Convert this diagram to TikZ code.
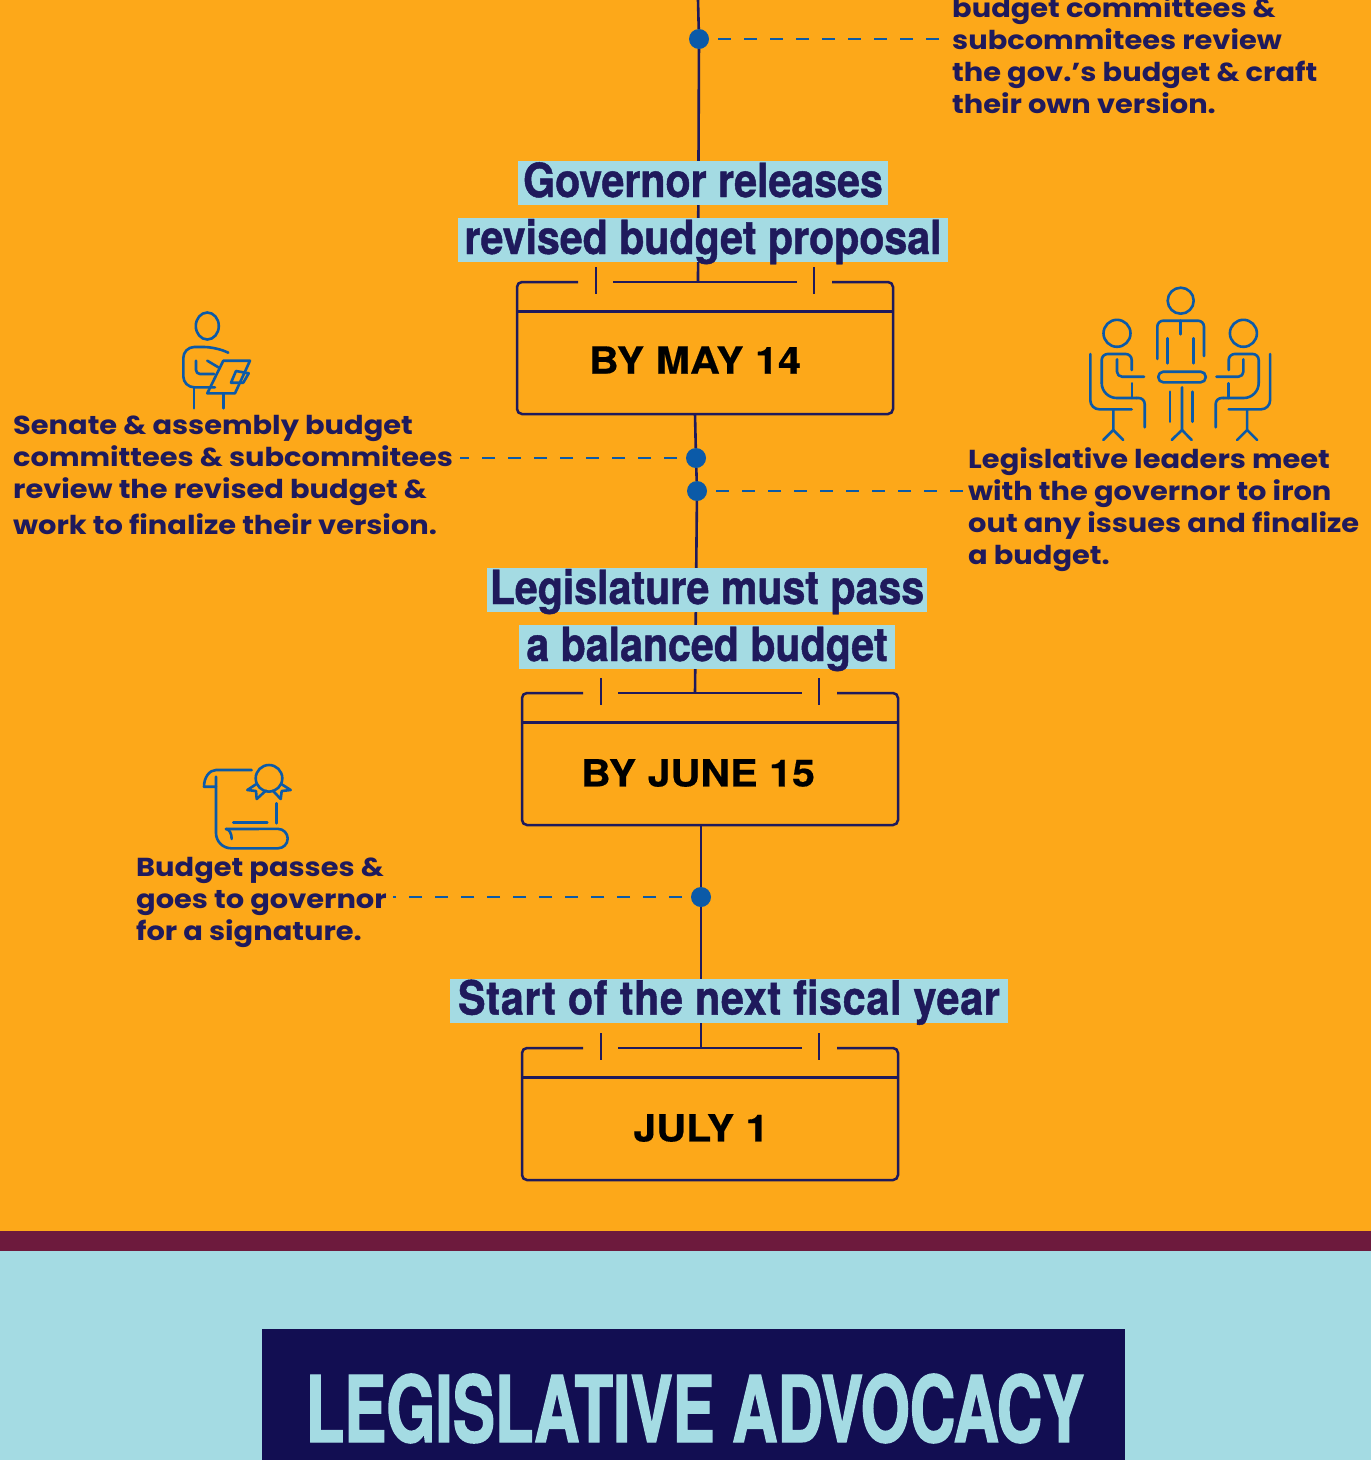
\documentclass[tikz,border=0pt]{standalone}
\usepackage{fontspec}
\newfontfamily\labelfont[FakeStretch=1.11]{Poppins}
\newfontfamily\headfont[FakeStretch=0.875,FakeBold=1]{TeX Gyre Heros}
\newfontfamily\bannerfont[FakeStretch=0.685,FakeBold=1.5]{TeX Gyre Heros}
\newfontfamily\datefont[FakeStretch=1.1,FakeBold=0.4]{TeX Gyre Heros}
\definecolor{orangebg}{HTML}{FDA819}
\definecolor{navyline}{HTML}{1F1A5C}
\definecolor{navybox}{HTML}{120E52}
\definecolor{paleblue}{HTML}{A4DBE3}
\definecolor{iconblue}{HTML}{0B5AA8}
\definecolor{maroonband}{HTML}{6D1A3D}
\tikzset{
    datebox/.style={
        font=\datefont\fontsize{37.5}{40}\selectfont\bfseries,
        text=black,
        inner sep=0pt
    },
}
% date card: name, left x, top y, top x, bottom x, label position, label
\newcommand{\datecard}[7]{
\coordinate (#1top) at (#4,#3);
\coordinate (#1bot) at (#5,#3+132);
\draw[boxline,rounded corners=5pt] (#2+61,#3) -- (#2,#3) -- (#2,#3+132) -- (#2+376,#3+132) -- (#2+376,#3) -- (#2+315,#3);
\draw[boxline] (#2+96,#3) -- (#2+280,#3);
\draw[boxline] (#2,#3+29.5) -- (#2+376,#3+29.5);
\draw[tickline] (#2+79,#3-15) -- (#2+79,#3+12);
\draw[tickline] (#2+297,#3-15) -- (#2+297,#3+12);
\node[datebox] (#1label) at (#6) {#7};
}
% one seated person
\newcommand{\seated}{
\draw[icon] (1117,333.3) circle (13.5);
\draw[icon,rounded corners=6pt] (1131.7,370) -- (1131.7,354) -- (1101.7,354) -- (1101.7,383);
\draw[icon] (1101.7,383) arc (180:90:15) -- (1136.7,398);
\draw[icon,rounded corners=6pt] (1136.7,398) -- (1144.7,398) -- (1144.7,427.3);
\draw[icon,rounded corners=5pt] (1117,359.3) -- (1117,376.7) -- (1144,376.7);
\draw[icon] (1132,383.3) -- (1132,398);
\draw[icon,rounded corners=9pt] (1090.3,354) -- (1090.3,409.3) -- (1131.7,409.3);
\draw[icon] (1113.3,409.3) -- (1113.3,430) -- (1103.3,440);
\draw[icon] (1113.3,430) -- (1123.3,440);
}

\begin{document}
\begin{tikzpicture}[x=1pt,y=-1pt]
\tikzstyle{boxline}=[draw=navyline,line width=2.5pt]
\tikzstyle{tickline}=[draw=navyline,line width=2.4pt]
\tikzstyle{spine}=[draw=navyline,line width=2.6pt]
\tikzstyle{dot}=[circle,fill=iconblue,minimum size=20pt,inner sep=0pt]
\tikzstyle{leader}=[draw=iconblue,line width=2.6pt,dash pattern=on 13.2pt off 12.8pt]
\tikzstyle{icon}=[draw=iconblue,line width=2.6pt,line cap=round,line join=round]
\tikzstyle{headline}=[anchor=base,fill=paleblue,text=navyline,inner xsep=3pt,inner ysep=0pt,text height=36pt,text depth=8pt,font=\headfont\fontsize{47}{47}\selectfont\bfseries]
\tikzstyle{note}=[anchor=north west,align=left,inner sep=0pt,text=navyline,font=\labelfont\fontsize{26}{32}\selectfont\bfseries]

\useasboundingbox (0,0) rectangle (1371,1460);
%BACKGROUND
\fill[orangebg] (0,0) rectangle (1371,1231);
\fill[maroonband] (0,1231) rectangle (1371,1251);
\fill[paleblue] (0,1251) rectangle (1371,1460);

%%%%%%%%%%%%%%%%%%%%%%%%%%%%%%%%%%%%%%%%%%%%%%%%%%%%%%%%%%%%%%%%%%%%%%%%
%date cards
\datecard{may}{517}{282}{698}{695}{695,360}{BY MAY 14}
\datecard{june}{522}{693}{695}{701}{698,773}{BY JUNE 15}
\datecard{july}{522}{1048}{701}{701}{701,1128}{JULY 1}

%%%%%%%%%%%%%%%%%%%%%%%%%%%%%%%%%%%%%%%%%%%%%%%%%%%%%%%%%%%%%%%%%%%%%%%%
%dots
\node[dot] (dotcraft) at (699,39) {};
\node[dot] (dotreview) at (696,458) {};
\node[dot] (dotmeet) at (697,491) {};
\node[dot] (dotpass) at (701,897) {};
\coordinate (spinetop) at (698,0);
\coordinate (leadercraft) at (940,39);
\coordinate (leaderreview) at (460,458);
\coordinate (leadermeet) at (963,491);
\coordinate (leaderpass) at (393,897);

%%%%%%%%%%%%%%%%%%%%%%%%%%%%%%%%%%%%%%%%%%%%%%%%%%%%%%%%%%%%%%%%%%%%%%%%
%ARROWS
%spine
\draw[spine] (spinetop) -- (dotcraft);
\draw[spine] (dotcraft) -- (maytop);
\draw[spine] (maybot) -- (dotreview);
\draw[spine] (dotreview) -- (dotmeet);
\draw[spine] (dotmeet) -- (junetop);
\draw[spine] (junebot) -- (dotpass);
\draw[spine] (dotpass) -- (julytop);
%leaders
\draw[leader] (dotcraft) ++(19,0) -- (leadercraft);
\draw[leader] (dotreview) ++(-19,0) -- (leaderreview);
\draw[leader] (dotmeet) ++(19,0) -- (leadermeet);
\draw[leader] (dotpass) ++(-19,0) -- (leaderpass);

%%%%%%%%%%%%%%%%%%%%%%%%%%%%%%%%%%%%%%%%%%%%%%%%%%%%%%%%%%%%%%%%%%%%%%%%
%headlines
\node[headline,minimum width=370pt] (govone) at (703,197) {Governor releases};
\node[headline,minimum width=490pt] (govtwo) at (703,254) {revised budget proposal};
\node[headline,minimum width=440pt] (legone) at (707,604) {Legislature must pass};
\node[headline,minimum width=376pt] (legtwo) at (707,661) {a balanced budget};
\node[headline,minimum width=558pt] (fiscal) at (729,1014.5) {\addfontfeature{LetterSpace=1.6}Start of the next fiscal year};

%%%%%%%%%%%%%%%%%%%%%%%%%%%%%%%%%%%%%%%%%%%%%%%%%%%%%%%%%%%%%%%%%%%%%%%%
%notes
\node[note] (notecraft) at (952,-4) {budget committees \&\\subcommitees review\\the gov.’s budget \& craft\\their own version.};
\node[note] (notereview) at (13,415) {Senate \& assembly budget\\committees \& subcommitees\\review the revised budget \&\\[4pt]work to finalize their version.};
\node[note] (notemeet) at (968,447) {Legislative leaders meet\\with the governor to iron\\out any issues and finalize\\a budget.};
\node[note] (notepass) at (136,857) {Budget passes \&\\goes to governor\\for a signature.};

%%%%%%%%%%%%%%%%%%%%%%%%%%%%%%%%%%%%%%%%%%%%%%%%%%%%%%%%%%%%%%%%%%%%%%%%
%icons
%reader
\draw[icon] (207.3,326) ellipse (11.5 and 13.5);
\draw[icon,rounded corners=11pt] (228.3,352.7) -- (215,347) -- (183.3,347) -- (183.3,387.3) -- (215,387.3);
\draw[icon,rounded corners=4pt] (196,360.7) -- (196,374) -- (214,374);
\draw[icon] (207.3,360.7) -- (220,368.3);
\draw[icon] (223.3,360.7) -- (250,360.7) -- (235,393.3) -- (207.3,393.3) -- cycle;
\draw[icon] (236,371) -- (248.7,373.3) -- (243.3,382.7) -- (231,382.7) -- cycle;
\draw[icon] (194,388) -- (194,408.3);
\draw[icon] (223.3,393.3) -- (223.3,408.3);
%meeting
\draw[icon] (1180.7,300.7) circle (13);
\draw[icon,rounded corners=6pt] (1157.3,359) -- (1157.3,320.7) -- (1204,320.7) -- (1204,356);
\draw[icon] (1180.7,320.7) -- (1180.7,334.3);
\draw[icon] (1167.7,338.3) -- (1167.7,363.3);
\draw[icon] (1193.3,338.3) -- (1193.3,363.3);
\draw[icon,rounded corners=5pt] (1158.3,371.7) rectangle (1205.7,382.3);
\draw[icon] (1170,391.7) -- (1170,421.7);
\draw[icon] (1192.7,391.7) -- (1192.7,421.7);
\draw[icon] (1182,387.3) -- (1182,430) -- (1171.7,440);
\draw[icon] (1182,430) -- (1191.7,440);
\seated
\begin{scope}[shift={(2360.4,0)},xscale=-1]
\seated
\end{scope}
%scroll
\draw[icon] (251.7,770) -- (216,770) arc (270:180:12 and 16.7) -- (216,786.7);
\draw[icon] (216,776.7) -- (216,833) arc (180:90:15.3) -- (278,848.3) arc (90:-90:9.7) -- (226,829);
\draw[icon] (226,829) arc (270:360:5.7 and 10);
\draw[icon] (233.3,822.7) -- (267.3,822.7);
\draw[icon] (276.7,803.3) -- (276.7,823.3);
\draw[icon] (269,778.3) circle (13.3);
\draw[icon] (256,784.3) -- (247.3,790) -- (256,791) -- (256.7,799) -- (266,790.5);
\draw[icon] (281.7,784.3) -- (290.7,790) -- (281.7,791) -- (280.7,799) -- (272.7,790.5);

%%%%%%%%%%%%%%%%%%%%%%%%%%%%%%%%%%%%%%%%%%%%%%%%%%%%%%%%%%%%%%%%%%%%%%%%
%banner
\node[fill=navybox,anchor=north west,minimum width=863pt,minimum height=131pt,inner sep=0pt] (banner) at (262,1329) {};
\node[anchor=base,text=paleblue,font=\bannerfont\fontsize{92}{92}\selectfont\bfseries] (bannertext) at (695,1442) {LEGISLATIVE ADVOCACY};
\end{tikzpicture}
\end{document}
